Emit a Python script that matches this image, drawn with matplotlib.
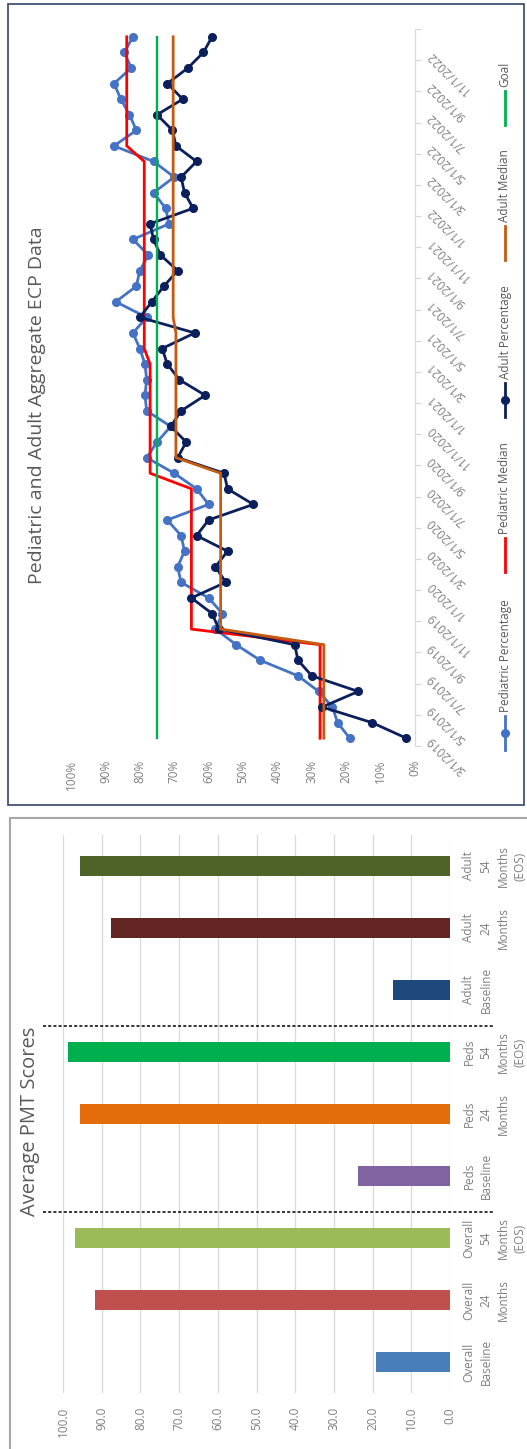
import matplotlib
matplotlib.use("Agg")
import matplotlib.pyplot as plt
import numpy as np
import pandas as pd
from matplotlib.lines import Line2D
from matplotlib.patches import Rectangle
from matplotlib.transforms import blended_transform_factory

plt.rcParams["font.family"] = ["Open Sans", "DejaVu Sans"]

# monthly ECP data, 3/2019 .. 12/2022
months = pd.date_range("2019-03-01", periods=46, freq="MS")
ped_pct = [19, 22.5, 24, 28, 34, 45, 52, 58, 56, 60, 68, 69, 67, 68, 72, 60,
           63.5, 70, 78, 75, 71, 78, 78.5, 78, 78.5, 80, 82, 78, 87, 81, 80,
           77.5, 82, 71.5, 72.5, 76, 70, 76, 87.5, 81, 83, 85.5, 87.5, 82.5,
           84.5, 82]
adult_pct = [2.5, 12.5, 27, 16.5, 30, 34, 35, 57, 59, 65, 55, 58, 54.5, 63.5,
             60, 47, 54.5, 55.5, 69, 66.5, 71, 68, 61, 68.5, 72, 73.5, 64, 80,
             76.5, 73, 69, 74, 76, 77, 64.5, 67, 68, 63.5, 69.5, 70.5, 75,
             67.5, 72, 66, 61.5, 59]
ped_median = [27.6] * 7 + [65.0] * 10 + [77.0] * 8 + [78.7] * 13 + [83.8] * 8
adult_median = [26.5] * 7 + [56.5] * 11 + [69.5] * 9 + [70.3] * 19
goal = [75] * 46

# PMT scores
pmt_labels = ["Overall\nBaseline", "Overall\n24\nMonths", "Overall\n54\nMonths\n(EOS)",
              "Peds\nBaseline", "Peds\n24\nMonths", "Peds\n54\nMonths\n(EOS)",
              "Adult\nBaseline", "Adult\n24\nMonths", "Adult\n54\nMonths\n(EOS)"]
pmt_scores = [19.1, 91.8, 97.0, 23.9, 95.7, 98.7, 14.8, 87.7, 95.5]
pmt_colors = ["#4a7ebb", "#c0504d", "#9bbb59", "#8064a2", "#e46c0a",
              "#00b050", "#1f497d", "#632523", "#4f6228"]

W, H = 527, 1449
GRID = "#d9d9d9"
LABEL = "#7f7f7f"
TEXT = "#595959"


def fx(px):
    return px / W


def fy(py):
    return 1 - py / H


fig = plt.figure(figsize=(W / 100, H / 100), dpi=100)

# chart frames
fig.patches.append(Rectangle((fx(7.5), fy(805)), fx(524) - fx(7.5), fy(3.5) - fy(805),
                             transform=fig.transFigure, fill=False,
                             edgecolor="#34446a", lw=1.2))
fig.patches.append(Rectangle((fx(10), fy(1470)), fx(600), fy(818) - fy(1470),
                             transform=fig.transFigure, fill=False,
                             edgecolor="#a6a6a6", lw=1.5))

# ---- line chart (drawn turned on its side) ----
ax1 = fig.add_axes([fx(71), fy(746), (415 - 71) / W, (746 - 29) / H])
pos = np.arange(len(months))
series = [
    ("Pediatric Percentage", ped_pct, "#4472c4", True),
    ("Pediatric Median", ped_median, "#ff0000", False),
    ("Adult Percentage", adult_pct, "#0b1f5c", True),
    ("Adult Median", adult_median, "#c55a11", False),
    ("Goal", goal, "#00b050", False),
]
for name, vals, col, mk in series:
    ax1.plot(vals, pos, color=col, lw=2.0 if name != "Goal" else 1.7,
             marker="o" if mk else None, ms=5.5, solid_joinstyle="round")

ax1.set_xlim(100, 0)
ax1.set_ylim(-0.5, len(months) - 0.5)
for s in ("top", "left", "bottom"):
    ax1.spines[s].set_visible(False)
ax1.spines["right"].set_color(GRID)
ax1.spines["right"].set_linewidth(0.9)

ax1.set_xticks(np.arange(0, 101, 10))
ax1.set_xticklabels([f"{v}%" for v in range(0, 101, 10)], rotation=90,
                    color=LABEL, fontsize=8.5)
ax1.tick_params(axis="x", length=0, pad=10)

ax1.yaxis.tick_right()
ax1.set_yticks(np.arange(-0.5, len(months), 2))
ax1.set_yticklabels([])
ax1.tick_params(axis="y", which="major", length=4, color=GRID, width=0.9)
lab_pos = pos[::2][:23]
ax1.set_yticks(lab_pos, minor=True)
ax1.set_yticklabels([f"{d.month}/1/{d.year}" for d in months[lab_pos]], minor=True,
                    rotation=135, rotation_mode="anchor", ha="right", va="center",
                    color=LABEL, fontsize=8.5)
ax1.tick_params(axis="y", which="minor", length=0, pad=10)

fig.text(fx(37), fy(405), "Pediatric and Adult Aggregate ECP Data", rotation=90,
         ha="center", va="center", fontsize=14, color=TEXT)

# legend, stacked along the right edge
leg_start = [750, 572, 417, 260, 125]
for (name, vals, col, mk), y0 in zip(series, leg_start):
    fig.add_artist(Line2D([fx(505), fx(505)], [fy(y0), fy(y0 - 34)],
                          transform=fig.transFigure, color=col, lw=2.0))
    if mk:
        fig.add_artist(Line2D([fx(505)], [fy(y0 - 17)], transform=fig.transFigure,
                              color=col, marker="o", ms=5.5))
    fig.text(fx(505), fy(y0 - 38), name, rotation=90, ha="center", va="bottom",
             fontsize=8.5, color=TEXT)

# ---- PMT bar chart ----
ax2 = fig.add_axes([fx(63), fy(1393), (450 - 63) / W, (1393 - 835) / H])
idx = np.arange(len(pmt_scores))
ax2.barh(idx, pmt_scores, height=0.31, color=pmt_colors)
ax2.set_xlim(100, 0)
ax2.set_ylim(-0.5, len(pmt_scores) - 0.5)
ax2.set_axisbelow(True)
ax2.xaxis.grid(True, color=GRID, lw=0.9)
for s in ax2.spines.values():
    s.set_visible(False)
ax2.set_xticks(np.arange(0, 101, 10))
ax2.set_xticklabels([f"{v:.1f}" for v in range(0, 101, 10)], rotation=90,
                    color=LABEL, fontsize=8.5)
ax2.tick_params(axis="x", length=0, pad=10)
ax2.yaxis.tick_right()
ax2.set_yticks(idx)
ax2.set_yticklabels(pmt_labels, rotation=90, ha="left", va="center",
                    multialignment="center", linespacing=1.4,
                    color=LABEL, fontsize=8.5)
ax2.tick_params(axis="y", length=0, pad=9)

# group separators
sep = blended_transform_factory(fig.transFigure, ax2.transData)
for b in (2.5, 5.5):
    fig.add_artist(Line2D([fx(43), fx(493)], [b - 0.08, b - 0.08], transform=sep,
                          color="black", lw=1.1, linestyle=(0, (2, 1.4))))

fig.text(fx(30), fy(1121), "Average PMT Scores", rotation=90, ha="center",
         va="center", fontsize=14.5, color=TEXT)

fig.savefig("out.png", dpi=100)
